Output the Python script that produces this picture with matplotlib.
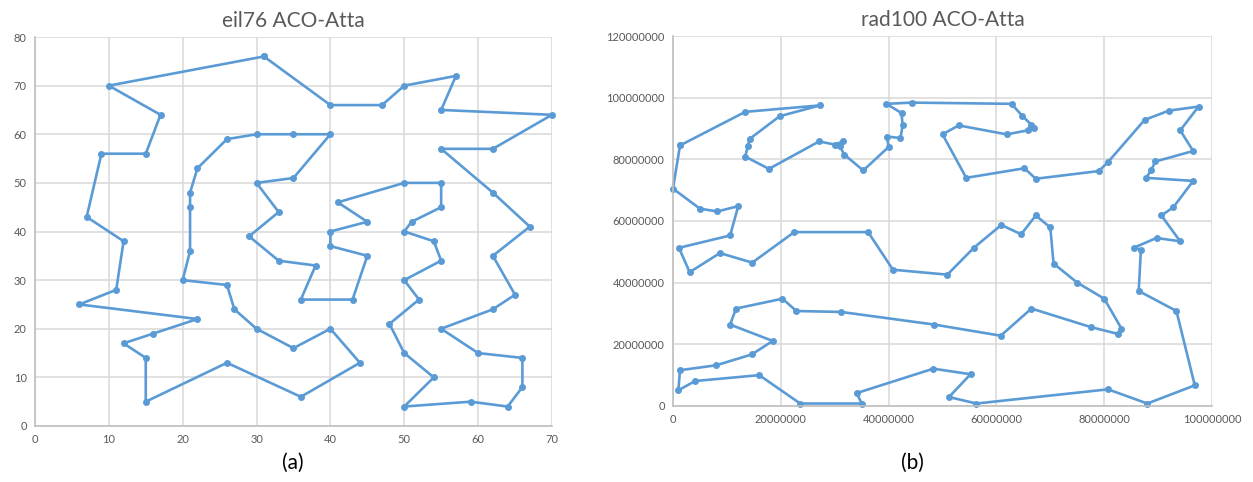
import matplotlib
matplotlib.use("Agg")
import matplotlib.pyplot as plt
from matplotlib.ticker import FuncFormatter

plt.rcParams['font.family'] = ['Lato', 'DejaVu Sans']

# eil76 tour (in visiting order)
eil_x = [31, 40, 47, 50, 57, 55, 70, 62, 55, 62, 67, 62, 65, 62, 55, 60, 66, 66, 64, 59,
         50, 54, 50, 48, 52, 50, 55, 54, 50, 51, 55, 55, 50, 41, 45, 40, 40, 45, 43, 36,
         38, 33, 29, 33, 30, 35, 40, 35, 30, 26, 22, 21, 21, 21, 20, 26, 27, 30, 35, 40,
         44, 36, 26, 15, 15, 12, 16, 22, 6, 11, 12, 7, 9, 15, 17, 10]
eil_y = [76, 66, 66, 70, 72, 65, 64, 57, 57, 48, 41, 35, 27, 24, 20, 15, 14, 8, 4, 5,
         4, 10, 15, 21, 26, 30, 34, 38, 40, 42, 45, 50, 50, 46, 42, 40, 37, 35, 26, 26,
         33, 34, 39, 44, 50, 51, 60, 60, 60, 59, 53, 48, 45, 36, 30, 29, 24, 20, 16, 20,
         13, 6, 13, 5, 14, 17, 19, 22, 25, 28, 38, 43, 56, 56, 64, 70]

# rad100 tour, coordinates in millions
rad_x = [1.3, 13.4, 27.3, 19.8, 14.2, 13.9, 13.4, 17.8, 27.1, 30.0, 31.5, 30.9, 31.8, 35.3,
         40.0, 39.7, 42.2, 42.6, 42.4, 39.6, 44.3, 62.8, 64.8, 66.5, 67.0, 65.8, 61.9, 53.0,
         50.0, 54.4, 65.2, 67.3, 79.0, 80.7, 87.5, 92.0, 97.5, 94.1, 96.5, 89.5, 88.7, 87.8,
         96.5, 92.8, 90.6, 94.1, 89.7, 85.6, 86.8, 86.4, 93.4, 96.8, 88.0, 80.7, 56.3, 51.2,
         55.2, 48.3, 34.1, 35.0, 23.6, 16.0, 4.1, 1.0, 1.3, 8.0, 14.6, 18.5, 10.6, 11.7,
         20.3, 22.9, 31.2, 48.5, 60.8, 66.5, 77.5, 82.5, 83.2, 80.0, 75.0, 70.6, 70.0, 67.3,
         64.6, 60.9, 55.8, 50.9, 40.8, 36.2, 22.5, 14.7, 8.7, 3.1, 1.1, 10.6, 12.1, 8.2,
         5.0, 0.0]
rad_y = [84.5, 95.4, 97.5, 94.0, 86.6, 84.4, 80.9, 76.9, 85.8, 84.8, 85.8, 84.4, 81.5, 76.4,
         84.0, 87.4, 86.9, 91.0, 95.0, 98.0, 98.4, 98.0, 94.1, 91.2, 90.3, 89.4, 88.1, 91.0,
         88.1, 74.0, 77.1, 73.7, 76.2, 79.1, 92.8, 95.8, 97.1, 89.4, 82.7, 79.3, 76.5, 74.0,
         73.0, 64.4, 61.8, 53.4, 54.5, 51.4, 50.6, 37.3, 30.8, 6.7, 0.8, 5.4, 0.8, 2.9,
         10.3, 12.1, 4.2, 0.8, 0.8, 10.0, 8.1, 5.1, 11.6, 13.2, 16.7, 21.1, 26.4, 31.6,
         34.8, 30.8, 30.5, 26.4, 22.8, 31.6, 25.6, 23.4, 25.1, 34.8, 40.0, 46.2, 57.9, 61.8,
         55.7, 58.7, 51.3, 42.6, 44.2, 56.4, 56.4, 46.5, 49.6, 43.4, 51.3, 55.3, 64.8, 63.1,
         64.0, 70.5]

blue = '#5B9BD5'
grid_c = '#D9D9D9'
tick_c = '#595959'

fig = plt.figure(figsize=(12.53, 4.82), dpi=100)
ax1 = fig.add_axes([0.0279, 0.1162, 0.4126, 0.807])
ax2 = fig.add_axes([0.5371, 0.1577, 0.4302, 0.7676])


def style(ax):
    for s in ['top', 'right']:
        ax.spines[s].set_visible(False)
    for s in ['left', 'bottom']:
        ax.spines[s].set_color('#BFBFBF')
        ax.spines[s].set_linewidth(1.2)
    ax.grid(True, color=grid_c, linewidth=1.1)
    ax.set_axisbelow(True)
    ax.tick_params(length=0, labelsize=8, colors=tick_c, pad=6)


# (a) eil76
ax1.plot(eil_x + eil_x[:1], eil_y + eil_y[:1], color=blue, lw=1.9,
         marker='o', ms=4, clip_on=False)
ax1.set_xlim(0, 70)
ax1.set_ylim(0, 80)
ax1.set_xticks(range(0, 71, 10))
ax1.set_yticks(range(0, 81, 10))
style(ax1)
ax1.set_title('eil76 ACO-Atta', fontsize=15, color=tick_c, pad=7)

# (b) rad100
rx = [v * 1e6 for v in rad_x]
ry = [v * 1e6 for v in rad_y]
ax2.plot(rx + rx[:1], ry + ry[:1], color=blue, lw=1.9,
         marker='o', ms=4, clip_on=False)
ax2.set_xlim(0, 1e8)
ax2.set_ylim(0, 1.2e8)
ax2.set_xticks([i * 2e7 for i in range(6)])
ax2.set_yticks([i * 2e7 for i in range(7)])
fmt = FuncFormatter(lambda v, p: '%d' % round(v))
ax2.xaxis.set_major_formatter(fmt)
ax2.yaxis.set_major_formatter(fmt)
style(ax2)
ax2.set_title('rad100 ACO-Atta', fontsize=15, color=tick_c, pad=7)

fig.text(0.2335, 0.027, '(a)', ha='center', fontsize=15)
fig.text(0.7285, 0.027, '(b)', ha='center', fontsize=15)

fig.savefig('out.png', dpi=100, facecolor='white')
